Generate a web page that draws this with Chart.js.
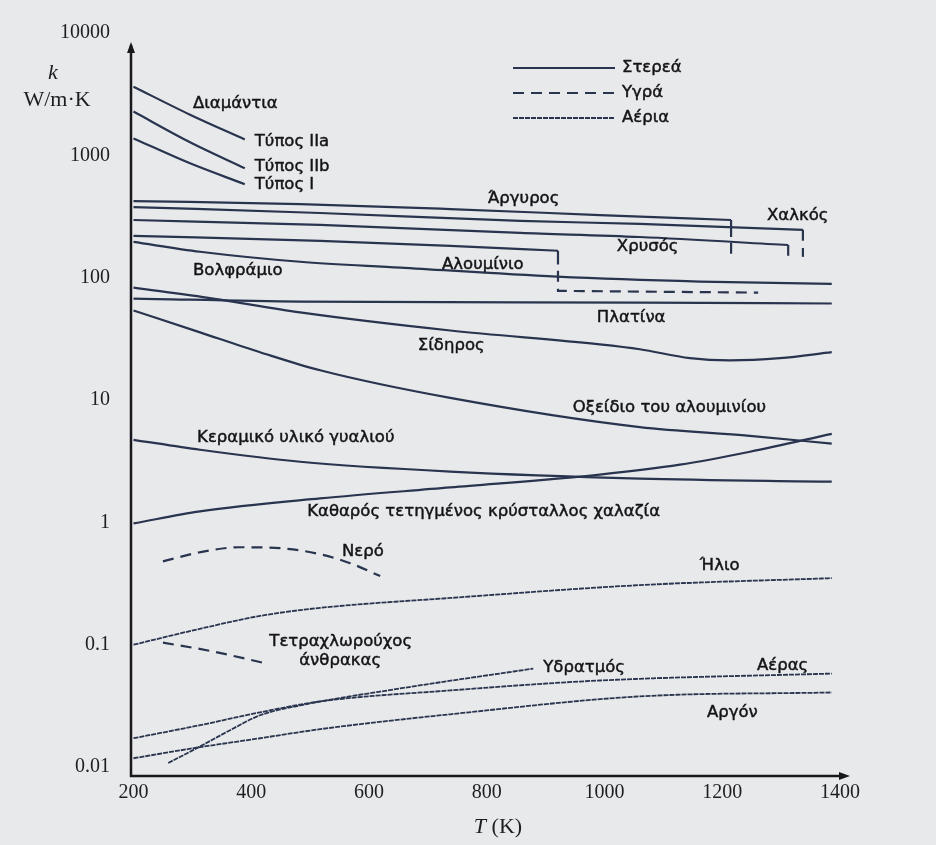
<!DOCTYPE html>
<html lang="el">
<head>
<meta charset="utf-8">
<title>Θερμική αγωγιμότητα υλικών</title>
<script src="https://cdn.jsdelivr.net/npm/chart.js@4.4.1/dist/chart.umd.min.js"></script>
<style>
  html, body { margin: 0; padding: 0; background: #e8e9eb; }
  #wrap { width: 936px; height: 845px; }
</style>
</head>
<body>
<div id="wrap"><canvas id="c" width="936" height="845"></canvas></div>
<script>
// Axis ticks: temperature in K, conductivity decades in W/m·K
const tempTicks = [200, 400, 600, 800, 1000, 1200, 1400];
const kTicks = [0.01, 0.1, 1, 10, 100, 1000, 10000];
const kTickLabels = ['0.01', '0.1', '1', '10', '100', '1000', '10000'];

// ---- Solids ----
const diamondIIaT = [200, 296, 389];
const diamondIIaK = [3640, 2150, 1350];
const diamondIIbT = [200, 296, 389];
const diamondIIbK = [2280, 1280, 785];
const diamondIT = [200, 296, 389];
const diamondIK = [1375, 860, 581];

const silverT = [200, 483, 738, 992, 1215];
const silverK = [423, 400, 364, 325, 296];
const silverMeltT = [1215, 1215];
const silverMeltK = [296, 215];

const copperT = [200, 517, 857, 1060, 1337];
const copperK = [378, 338, 291, 275, 246];
const copperMeltT = [1337, 1337];
const copperMeltK = [246, 200];

const goldT = [200, 517, 857, 1060, 1312];
const goldK = [296, 270, 232, 215, 185];
const goldMeltT = [1312, 1312];
const goldMeltK = [185, 151];

const aluminumT = [200, 517, 738, 921];
const aluminumK = [220, 200, 182, 166];
const aluminumMeltT = [921, 921];
const aluminumMeltK = [166, 128];

const tungstenT = [200, 313, 483, 653, 919, 1162, 1386];
const tungstenK = [196, 163, 135, 121, 102, 93, 89];

const platinumT = [200, 483, 1060, 1386];
const platinumK = [67.5, 63.8, 62.6, 61.5];

const ironT = [200, 335, 483, 738, 992, 1060, 1145, 1213, 1298, 1386];
const ironK = [83, 67.5, 52, 37, 28.5, 26, 22, 21.1, 22, 24.6];

const aluminaT = [200, 313, 415, 517, 738, 1060, 1247, 1386];
const aluminaK = [54, 35.7, 24.6, 17.5, 10.4, 6.0, 5.1, 4.4];

const glassCeramicT = [200, 313, 483, 738, 1060, 1386];
const glassCeramicK = [4.73, 3.92, 3.13, 2.60, 2.28, 2.15];

const quartzT = [200, 313, 517, 738, 992, 1128, 1247, 1386];
const quartzK = [0.98, 1.23, 1.57, 1.93, 2.46, 2.96, 3.78, 5.29];

// ---- Liquids ----
const liquidSilverT = [1215, 1215];
const liquidSilverK = [193, 148];
const liquidCopperT = [1337, 1337];
const liquidCopperK = [175, 148];
const liquidAluminumT = [921, 921, 1261];
const liquidAluminumK = [114, 78, 75.5];

const waterT = [250, 313, 381, 449, 517, 568, 619];
const waterK = [0.48, 0.57, 0.626, 0.615, 0.549, 0.464, 0.364];

const ccl4T = [250, 330, 427];
const ccl4K = [0.104, 0.089, 0.070];

// ---- Gases ----
const heliumT = [200, 313, 415, 517, 738, 1060, 1386];
const heliumK = [0.100, 0.135, 0.172, 0.200, 0.241, 0.307, 0.350];

const steamT = [259, 308, 364, 415, 483, 653, 879];
const steamK = [0.0108, 0.0143, 0.0200, 0.0265, 0.0319, 0.0439, 0.0638];

const airT = [200, 313, 415, 517, 738, 992, 1386];
const airK = [0.0172, 0.0220, 0.0280, 0.0344, 0.0423, 0.0510, 0.0581];

const argonT = [200, 313, 415, 517, 738, 1060, 1386];
const argonK = [0.0118, 0.01455, 0.0172, 0.0204, 0.0270, 0.0378, 0.0407];

// Curve labels, anchored in data coordinates (T in K, k in W/m·K)
const curveLabels = [
  { text: 'Διαμάντια', T: 301, k: 2647, align: 'left' },
  { text: 'Τύπος IIa', T: 406, k: 1300, align: 'left' },
  { text: 'Τύπος IIb', T: 406, k: 814, align: 'left' },
  { text: 'Τύπος I', T: 406, k: 570, align: 'left' },
  { text: 'Άργυρος', T: 802, k: 439, align: 'left' },
  { text: 'Χαλκός', T: 1276, k: 319, align: 'left' },
  { text: 'Χρυσός', T: 1021, k: 178.6, align: 'left' },
  { text: 'Αλουμίνιο', T: 724, k: 127.5, align: 'left' },
  { text: 'Βολφράμιο', T: 301, k: 114, align: 'left' },
  { text: 'Πλατίνα', T: 987, k: 47.3, align: 'left' },
  { text: 'Σίδηρος', T: 683, k: 28.0, align: 'left' },
  { text: 'Οξείδιο του αλουμινίου', T: 946, k: 8.61, align: 'left' },
  { text: 'Κεραμικό υλικό γυαλιού', T: 308, k: 4.91, align: 'left' },
  { text: 'Καθαρός τετηγμένος κρύσταλλος χαλαζία', T: 495, k: 1.23, align: 'left' },
  { text: 'Νερό', T: 554, k: 0.581, align: 'left' },
  { text: 'Ήλιο', T: 1162, k: 0.439, align: 'left' },
  { text: 'Τετραχλωρούχος', T: 552, k: 0.1058, align: 'center' },
  { text: 'άνθρακας', T: 551, k: 0.0741, align: 'center' },
  { text: 'Υδρατμός', T: 896, k: 0.065, align: 'left' },
  { text: 'Αέρας', T: 1259, k: 0.0675, align: 'left' },
  { text: 'Αργόν', T: 1174, k: 0.028, align: 'left' }
];

const phaseNames = ['Στερεά', 'Υγρά', 'Αέρια'];

const INK = '#29344f';
const TEXT_INK = '#141417';
const LABEL_FONT = '16.5px "DejaVu Sans", sans-serif';
const STYLE = {
  solid: { borderDash: [], borderWidth: 2.2 },
  liquid: { borderDash: [11, 7], borderWidth: 2.2 },
  gas: { borderDash: [5, 1], borderWidth: 1.8 }
};

function pts(ts, ks) { return ts.map((t, i) => ({ x: t, y: ks[i] })); }
function series(name, ts, ks, phase, smooth = true) {
  return {
    label: name,
    data: pts(ts, ks),
    borderColor: INK,
    backgroundColor: INK,
    borderDash: STYLE[phase].borderDash,
    borderWidth: STYLE[phase].borderWidth,
    pointRadius: 0,
    fill: false,
    tension: 0,
    cubicInterpolationMode: smooth ? 'monotone' : 'default'
  };
}

const datasets = [
  series('Διαμάντι IIa', diamondIIaT, diamondIIaK, 'solid'),
  series('Διαμάντι IIb', diamondIIbT, diamondIIbK, 'solid'),
  series('Διαμάντι I', diamondIT, diamondIK, 'solid'),
  series('Άργυρος', silverT, silverK, 'solid'),
  series('Άργυρος τήξη', silverMeltT, silverMeltK, 'solid', false),
  series('Χαλκός', copperT, copperK, 'solid'),
  series('Χαλκός τήξη', copperMeltT, copperMeltK, 'solid', false),
  series('Χρυσός', goldT, goldK, 'solid'),
  series('Χρυσός τήξη', goldMeltT, goldMeltK, 'solid', false),
  series('Αλουμίνιο', aluminumT, aluminumK, 'solid'),
  series('Αλουμίνιο τήξη', aluminumMeltT, aluminumMeltK, 'solid', false),
  series('Βολφράμιο', tungstenT, tungstenK, 'solid'),
  series('Πλατίνα', platinumT, platinumK, 'solid'),
  series('Σίδηρος', ironT, ironK, 'solid'),
  series('Οξείδιο του αλουμινίου', aluminaT, aluminaK, 'solid'),
  series('Κεραμικό υλικό γυαλιού', glassCeramicT, glassCeramicK, 'solid'),
  series('Χαλαζίας', quartzT, quartzK, 'solid'),
  series('Υγρός άργυρος', liquidSilverT, liquidSilverK, 'liquid', false),
  series('Υγρός χαλκός', liquidCopperT, liquidCopperK, 'liquid', false),
  series('Υγρό αλουμίνιο', liquidAluminumT, liquidAluminumK, 'liquid', false),
  series('Νερό', waterT, waterK, 'liquid'),
  series('Τετραχλωρούχος άνθρακας', ccl4T, ccl4K, 'liquid'),
  series('Ήλιο', heliumT, heliumK, 'gas'),
  series('Υδρατμός', steamT, steamK, 'gas'),
  series('Αέρας', airT, airK, 'gas'),
  series('Αργόν', argonT, argonK, 'gas')
];

function arrowHead(ctx, tipX, tipY, dir) {
  ctx.beginPath();
  if (dir === 'up') {
    ctx.moveTo(tipX, tipY);
    ctx.lineTo(tipX - 4, tipY + 11);
    ctx.lineTo(tipX + 4, tipY + 11);
  } else {
    ctx.moveTo(tipX, tipY);
    ctx.lineTo(tipX - 11, tipY - 4);
    ctx.lineTo(tipX - 11, tipY + 4);
  }
  ctx.closePath();
  ctx.fill();
}

// Text drawn with a hairline stroke so it carries the weight of printed type
function inkText(ctx, text, px, py) {
  ctx.fillText(text, px, py);
  ctx.strokeText(text, px, py);
}

const decor = {
  id: 'decor',
  beforeDraw(chart) {
    const ctx = chart.ctx;
    ctx.save();
    ctx.fillStyle = '#e8e9eb';
    ctx.fillRect(0, 0, chart.width, chart.height);
    ctx.restore();
  },
  afterDraw(chart) {
    const { ctx, chartArea: a, scales: { x, y } } = chart;
    ctx.save();

    // Axes with arrow heads
    ctx.strokeStyle = '#18181c';
    ctx.fillStyle = '#18181c';
    ctx.lineWidth = 2.5;
    ctx.setLineDash([]);
    ctx.beginPath();
    ctx.moveTo(a.left, a.bottom);
    ctx.lineTo(a.left, a.top + 12);
    ctx.moveTo(a.left - 1.2, a.bottom);
    ctx.lineTo(a.right - 8, a.bottom);
    ctx.stroke();
    arrowHead(ctx, a.left, a.top + 9, 'up');
    arrowHead(ctx, a.right, a.bottom, 'right');

    // Axis titles
    ctx.fillStyle = '#1e1e22';
    ctx.textBaseline = 'middle';
    ctx.textAlign = 'center';
    ctx.font = 'italic 22px "Liberation Serif", serif';
    ctx.fillText('k', 53, 73);
    ctx.font = '22px "Liberation Serif", serif';
    ctx.fillText('W/m·K', 57, 100);

    const tx = (x.left + x.right) / 2 + 7.5;
    ctx.font = 'italic 22px "Liberation Serif", serif';
    const tW = ctx.measureText('T').width;
    ctx.font = '22px "Liberation Serif", serif';
    const restW = ctx.measureText(' (K)').width;
    const start = tx - (tW + restW) / 2;
    ctx.textAlign = 'left';
    ctx.font = 'italic 22px "Liberation Serif", serif';
    ctx.fillText('T', start, 827);
    ctx.font = '22px "Liberation Serif", serif';
    ctx.fillText(' (K)', start + tW, 827);

    // Curve labels
    ctx.font = LABEL_FONT;
    ctx.fillStyle = TEXT_INK;
    ctx.strokeStyle = TEXT_INK;
    ctx.lineWidth = 0.45;
    curveLabels.forEach(l => {
      ctx.textAlign = l.align;
      inkText(ctx, l.text, x.getPixelForValue(l.T), y.getPixelForValue(l.k));
    });

    // Phase key
    const keyX0 = 513, keyX1 = 615, keyY = [68, 93, 118];
    const keyStyles = [STYLE.solid, STYLE.liquid, STYLE.gas];
    keyStyles.forEach((s, i) => {
      ctx.strokeStyle = INK;
      ctx.lineWidth = s.borderWidth;
      ctx.setLineDash(s.borderDash);
      ctx.beginPath();
      ctx.moveTo(keyX0, keyY[i]);
      ctx.lineTo(keyX1, keyY[i]);
      ctx.stroke();
      ctx.setLineDash([]);
      ctx.textAlign = 'left';
      ctx.strokeStyle = TEXT_INK;
      ctx.lineWidth = 0.45;
      inkText(ctx, phaseNames[i], keyX1 + 7, keyY[i]);
    });

    ctx.restore();
  }
};

new Chart(document.getElementById('c'), {
  type: 'line',
  data: { datasets },
  options: {
    responsive: false,
    animation: false,
    devicePixelRatio: 1,
    layout: { padding: { left: 0, right: 86, top: 29, bottom: 0 } },
    plugins: { legend: { display: false }, tooltip: { enabled: false } },
    elements: { point: { radius: 0 } },
    scales: {
      x: {
        type: 'linear',
        bounds: 'data',
        min: 195.75,
        max: 1417,
        grid: { display: false, drawTicks: false },
        border: { display: false },
        afterBuildTicks(scale) { scale.ticks = tempTicks.map(v => ({ value: v })); },
        afterFit(scale) { scale.height = 69; },
        ticks: {
          padding: 5,
          maxRotation: 0,
          autoSkip: false,
          color: '#1e1e22',
          font: { family: '"Liberation Serif", serif', size: 20 },
          callback: v => String(v)
        }
      },
      y: {
        type: 'logarithmic',
        bounds: 'data',
        min: 0.00845,
        max: 10000,
        grid: { display: false, drawTicks: false },
        border: { display: false },
        afterBuildTicks(scale) { scale.ticks = kTicks.map(v => ({ value: v })); },
        afterFit(scale) { scale.width = 131; },
        ticks: {
          padding: 21,
          autoSkip: false,
          color: '#1e1e22',
          font: { family: '"Liberation Serif", serif', size: 20 },
          callback: v => {
            const i = kTicks.findIndex(t => Math.abs(t - v) / t < 1e-6);
            return i >= 0 ? kTickLabels[i] : '';
          }
        }
      }
    }
  },
  plugins: [decor]
});
</script>
</body>
</html>
